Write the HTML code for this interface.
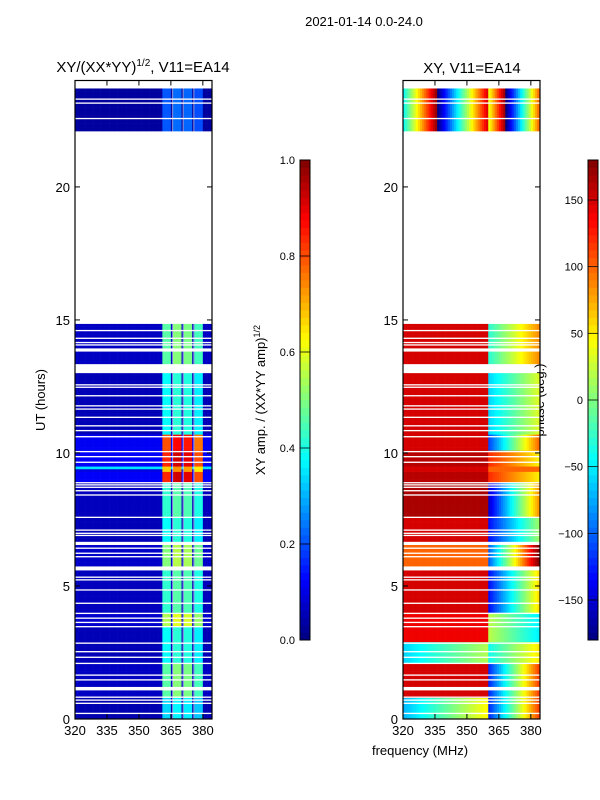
<!DOCTYPE html>
<html><head><meta charset="utf-8"><style>
body{margin:0;background:#fff;width:600px;height:800px;overflow:hidden}
svg{display:block;font-family:"Liberation Sans","DejaVu Sans",sans-serif}
</style></head><body>
<svg id="fig" width="600" height="800" xmlns="http://www.w3.org/2000/svg">
<text x="364" y="26" font-size="13" text-anchor="middle">2021-01-14 0.0-24.0</text>
<text x="143" y="72" font-size="15" text-anchor="middle">XY/(XX*YY)<tspan font-size="10" dy="-6">1/2</tspan><tspan dy="6">, V11=EA14</tspan></text>
<text x="472" y="73" font-size="15" text-anchor="middle">XY, V11=EA14</text>
<text transform="translate(45,400) rotate(-90)" font-size="13" text-anchor="middle">UT (hours)</text>
<text x="420" y="755" font-size="13" text-anchor="middle">frequency (MHz)</text>
<text transform="translate(265,400) rotate(-90)" font-size="13" text-anchor="middle">XY amp. / (XX*YY amp)<tspan font-size="9" dy="-5">1/2</tspan></text>
<text transform="translate(544,400) rotate(-90)" font-size="13" text-anchor="middle">phase (deg.)</text>
<g id="g"></g>
</svg>
<script>
// ---- data ----
const freqs = []; for (let f = 320; f < 384; f += 1) freqs.push(f);
const timeStep = 0.1;
const segStart = [0, 0.8, 2.1, 2.9, 3.5, 4.0, 5.6, 6.6, 7.6, 8.9, 9.3, 9.5, 10.1, 10.7, 13.35, 22.1];
const segEnd   = [0.8, 2.1, 2.9, 3.5, 4.0, 5.6, 6.6, 7.6, 8.9, 9.3, 9.5, 10.1, 10.7, 13.0, 14.85, 23.7];
const segGain  = [0.8, 1.1, 0.9, 0.9, 1.3, 1.0, 1.2, 0.9, 1.0, 2.0, 1.6, 2.0, 1.9, 0.9, 1.1, 0.5];
const segPhLow   = [-70, 150, -60, 140, 140, 150, 100, 150, 165, 160, 150, 160, 150, 150, 150, -40];
const segPhHigh  = [-120, -120, -40, 20, 20, -130, -100, -130, -150, 120, 100, 120, -110, -60, -30, 40];
const segPhSlope = [10, 10, 4, -3, -3, 8, 12, 6, 10, -3, 0, -3, 9, 4, 5, 18];
const segPhLowSlope = [3, 0, 2, 0, 0, 0, 0, 0, 0, 0, 0, 0, 0, 0, 0, 14];
const bandLo = [320, 361, 366, 371, 376, 380.5];
const bandHi = [361, 365.5, 370.5, 375.5, 380.5, 384];
const bandAmp = [0.06, 0.42, 0.46, 0.45, 0.4, 0.06];
const flagT = [14.6,14.31,14.15,14.06,13.87,12.56,12.47,12.15,11.77,11.65,11.34,11.02,10.84,10.61,10.05,9.86,9.65,8.88,8.8,8.71,8.58,8.42,7.58,7.1,6.98,6.9,6.6,6.42,6.23,6.1,5.66,5.33,5.23,4.85,4.35,3.97,3.79,3.63,3.47,2.85,2.53,2.32,2.09,1.65,1.47,1.14,0.82,0.71,0.59,0.21,23.3,23.15,22.57];
const flagW = [0.05,0.05,0.05,0.05,0.12,0.05,0.05,0.05,0.05,0.05,0.05,0.05,0.05,0.05,0.05,0.05,0.05,0.05,0.05,0.05,0.05,0.05,0.05,0.05,0.05,0.05,0.12,0.05,0.05,0.05,0.15,0.05,0.05,0.05,0.05,0.05,0.05,0.05,0.05,0.05,0.05,0.05,0.05,0.05,0.05,0.13,0.05,0.05,0.05,0.05,0.05,0.05,0.05];
const brightLine = 9.4;
const yTicks = [0, 5, 10, 15, 20];
const xTicks = [320, 335, 350, 365, 380];
const ampTicks = [0.0, 0.2, 0.4, 0.6, 0.8, 1.0];
const phTicks = [-150, -100, -50, 0, 50, 100, 150];

const NS = "http://www.w3.org/2000/svg";
const G = document.getElementById('g');
const panels = [{x0:75, x1:212, name:'amplitude'}, {x0:403, x1:540, name:'phase'}];
const yTop = 80.5, yBot = 719;
const yS = t => yBot - (t / 24) * (yBot - yTop);
const xS = (p, f) => p.x0 + (f - 320) / (384.3 - 320) * (p.x1 - p.x0);
function mk(tag, attrs, parent) { const e = document.createElementNS(NS, tag); for (const k in attrs) e.setAttribute(k, attrs[k]); (parent || G).appendChild(e); return e; }
function jet(v) {
  v = Math.max(0, Math.min(1, v));
  const r = Math.min(1, Math.max(0, Math.min(4 * v - 1.5, -4 * v + 4.5)));
  const g = Math.min(1, Math.max(0, Math.min(4 * v - 0.5, -4 * v + 3.5)));
  const b = Math.min(1, Math.max(0, Math.min(4 * v + 0.5, -4 * v + 2.5)));
  return `rgb(${Math.round(r*255)},${Math.round(g*255)},${Math.round(b*255)})`;
}
function ampAt(f) { for (let i = 0; i < bandLo.length; i++) if (f >= bandLo[i] && f < bandHi[i]) return bandAmp[i]; return 0.06; }
function wrap(p) { return ((p + 180) % 360 + 360) % 360 - 180; }

panels.forEach((p, pi) => {
  const grp = mk('g', {});
  
  
  for (let s = 0; s < segStart.length; s++) {
    for (let t = segStart[s]; t < segEnd[s] - 1e-6; t += timeStep) {
      const t1 = Math.min(t + timeStep, segEnd[s]);
      const y0 = yS(t1), y1 = yS(t);
      for (let ci = 0; ci < freqs.length; ci++) {
        const f = freqs[ci];
        let col;
        if (pi === 0) {
          let v = ampAt(f + 0.5) * segGain[s];
          if (Math.abs(t - brightLine) < 0.05) v = Math.max(v, 0.35);
          col = jet(v);
        } else {
          let ph;
          if (f < 360) ph = segPhLow[s] + segPhLowSlope[s] * (f - 320);
          else ph = segPhHigh[s] + segPhSlope[s] * (f - 360);
          col = jet((wrap(ph) + 180) / 360);
        }
        const r = mk('rect', {x: xS(p, f).toFixed(2), y: y0.toFixed(2), width: (xS(p, f + 1) - xS(p, f) + 0.3).toFixed(2), height: (y1 - y0 + 0.3).toFixed(2), fill: col}, grp);
        
        
      }
    }
  }
  if (pi === 0) {
    [365.5, 370.5, 375.5].forEach(f => {
      const l = mk('rect', {x: xS(p, f).toFixed(2), y: yTop, width: 1.2, height: yBot - yTop, fill: 'rgba(255,255,255,0.5)'});
      
      
    });
  }
  flagT.forEach((t, i) => {
    const fl = mk('rect', {x: p.x0, y: (yS(t + flagW[i] / 2)).toFixed(2), width: p.x1 - p.x0, height: Math.max(1.3, yS(t - flagW[i] / 2) - yS(t + flagW[i] / 2)).toFixed(2), fill: '#fff'});
    
    
  });
  const fr = mk('rect', {x: p.x0, y: yTop, width: p.x1 - p.x0, height: yBot - yTop, fill: 'none', stroke: '#000', 'stroke-width': 1.2});
  
  
  yTicks.forEach(t => {
    const y = yS(t);
    mk('line', {x1: p.x0, x2: p.x0 + 5, y1: y, y2: y, stroke: '#000'});
    mk('line', {x1: p.x1, x2: p.x1 - 5, y1: y, y2: y, stroke: '#000'});
    const tx = mk('text', {x: p.x0 - 5, y: y + 5, 'font-size': 13, 'text-anchor': 'end'});
    tx.textContent = t;
    
    
  });
  xTicks.forEach(f => {
    const x = xS(p, f);
    mk('line', {x1: x, x2: x, y1: yBot, y2: yBot - 5, stroke: '#000'});
    mk('line', {x1: x, x2: x, y1: yTop, y2: yTop + 5, stroke: '#000'});
    const tx = mk('text', {x: x, y: yBot + 16, 'font-size': 13, 'text-anchor': 'middle'});
    tx.textContent = f;
    
    
  });
});

const cbars = [{x: 300, ticks: ampTicks, min: 0, max: 1, fmt: v => v.toFixed(1), name: 'amplitude-colorbar'},
               {x: 588, ticks: phTicks, min: -180, max: 180, fmt: v => String(v).replace('-', '\u2212'), name: 'phase-colorbar'}];
const cbTop = 160, cbBot = 640;
cbars.forEach(c => {
  const grp = mk('g', {});
  
  
  const n = 64;
  for (let i = 0; i < n; i++) {
    const h = (cbBot - cbTop) / n;
    mk('rect', {x: c.x, y: cbBot - (i + 1) * h, width: 10, height: h + 0.4, fill: jet((i + 0.5) / n)}, grp);
  }
  mk('rect', {x: c.x, y: cbTop, width: 10, height: cbBot - cbTop, fill: 'none', stroke: '#000', 'stroke-width': 1}, grp);
  c.ticks.forEach(v => {
    const y = cbBot - (v - c.min) / (c.max - c.min) * (cbBot - cbTop);
    mk('line', {x1: c.x, x2: c.x + 10, y1: y, y2: y, stroke: '#000', 'stroke-width': 0.8}, grp);
    const tx = mk('text', {x: c.x - 5, y: y + 4, 'font-size': 11, 'text-anchor': 'end'}, grp);
    tx.textContent = c.fmt(v);
    
    
  });
});
</script>
</body></html>
